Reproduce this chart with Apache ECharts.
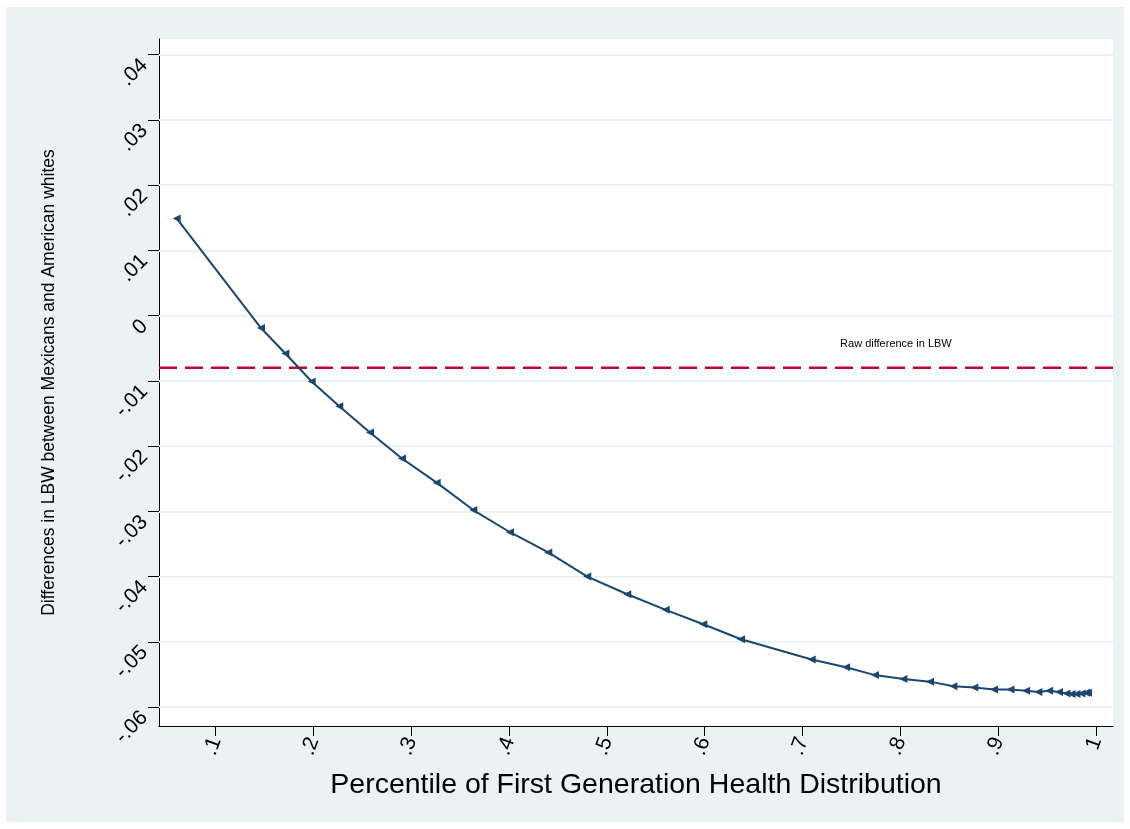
<!DOCTYPE html>
<html>
<head>
<meta charset="utf-8">
<script src="https://cdn.jsdelivr.net/npm/echarts@6/dist/echarts.min.js"></script>
<style>
html,body{margin:0;padding:0;background:#fff;}
#chart{width:1130px;height:829px;}
</style>
</head>
<body>
<div id="chart"></div>
<script>
// Percentile of first generation health distribution
const percentiles = [0.0603,0.1465,0.1714,0.1983,0.2265,0.2579,0.2906,0.3261,0.3635,0.4010,0.4402,0.4800,0.5209,0.5602,0.5986,0.6372,0.7094,0.7445,0.7741,0.8031,0.8303,0.8542,0.8756,0.8958,0.9126,0.9285,0.9411,0.9520,0.9622,0.9699,0.9750,0.9801,0.9852,0.9898,0.9918];
// Differences in LBW between Mexicans and American whites
const differences = [0.0149,-0.0019,-0.0058,-0.0101,-0.0139,-0.0179,-0.0219,-0.0256,-0.0298,-0.0332,-0.0363,-0.0400,-0.0427,-0.0451,-0.0473,-0.0496,-0.0527,-0.0539,-0.0551,-0.0557,-0.0561,-0.0568,-0.0570,-0.0573,-0.0573,-0.0575,-0.0577,-0.0575,-0.0577,-0.0579,-0.0580,-0.0580,-0.0579,-0.0578,-0.0578];
const rawDifference = -0.008;
const rawLabel = 'Raw difference in LBW';
const rawLabelPos = [0.7384, -0.0043];
const xTicks = [0.1,0.2,0.3,0.4,0.5,0.6,0.7,0.8,0.9,1];
const yTicks = [-0.06,-0.05,-0.04,-0.03,-0.02,-0.01,0,0.01,0.02,0.03,0.04];
const xMin = 0.04225, xMax = 1.01738;
const yMin = -0.0629, yMax = 0.0424;

function fmt(v){
  if (Math.abs(v) < 1e-9) return '0';
  if (Math.abs(v - 1) < 1e-9) return '1';
  let s = String(+v.toFixed(4));
  return s.replace('0.', '.');
}

const chart = echarts.init(document.getElementById('chart'), null, {renderer:'canvas'});
const FONT = 'Liberation Sans, Arial, sans-serif';
chart.setOption({
  backgroundColor: '#ffffff',
  animation: false,
  graphic: [{
    type: 'rect', z: -10, silent: true,
    shape: {x: 6, y: 7, width: 1118, height: 815},
    style: {fill: '#EAF2F3'}
  }],
  grid: {left: 159, top: 39, right: 17, bottom: 103, show: true, backgroundColor: '#ffffff', borderWidth: 0},
  xAxis: {
    type: 'value', min: xMin, max: xMax,
    name: 'Percentile of First Generation Health Distribution',
    nameLocation: 'middle', nameGap: 45,
    nameTextStyle: {fontFamily: FONT, fontSize: 28.5, color: '#000'},
    axisLine: {show: true, onZero: false, lineStyle: {color: '#000', width: 1}},
    axisTick: {show: true, length: 10, customValues: xTicks, lineStyle: {color: '#000'}},
    axisLabel: {customValues: xTicks, rotate: 70, margin: 12, fontFamily: FONT, fontSize: 21, color: '#000', formatter: fmt},
    splitLine: {show: false}
  },
  yAxis: {
    type: 'value', min: yMin, max: yMax,
    name: 'Differences in LBW between Mexicans and American whites',
    nameLocation: 'middle', nameGap: 101,
    nameTextStyle: {fontFamily: FONT, fontSize: 17.5, color: '#000'},
    axisLine: {show: true, onZero: false, lineStyle: {color: '#000', width: 1}},
    axisTick: {show: true, length: 11, customValues: yTicks, lineStyle: {color: '#000'}},
    axisLabel: {customValues: yTicks, rotate: 45, margin: 22, verticalAlign: 'top', fontFamily: FONT, fontSize: 21, color: '#000', formatter: fmt},
    splitLine: {show: false}
  },
  series: [
    {
      type: 'line', silent: true,
      data: [],
      markLine: {
        silent: true, symbol: 'none', animation: false,
        label: {show: false},
        lineStyle: {color: '#EAF2F3', width: 2, type: 'solid'},
        data: yTicks.map(v => ({yAxis: v}))
      }
    },
    {
      type: 'line', silent: true, z: 4,
      data: [[xMin, rawDifference], [xMax, rawDifference]],
      symbol: 'none',
      lineStyle: {color: '#C10534', width: 2.5, type: [18, 8]},
      markPoint: {
        silent: true, symbol: 'circle', symbolSize: 0,
        label: {show: true, position: 'right', distance: 0, formatter: rawLabel, fontFamily: FONT, fontSize: 11, color: '#000'},
        data: [{coord: rawLabelPos}]
      }
    },
    {
      type: 'line',
      data: percentiles.map((x, i) => [x, differences[i]]),
      symbol: 'triangle', symbolSize: 8, symbolRotate: 90,
      showAllSymbol: true,
      itemStyle: {color: '#1A476F'},
      lineStyle: {color: '#1A476F', width: 2},
      z: 5
    }
  ]
});
</script>
</body>
</html>
